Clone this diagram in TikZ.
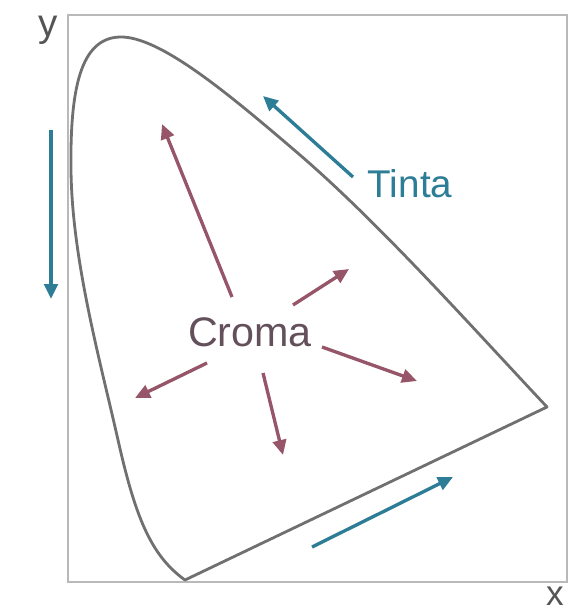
\documentclass[tikz,border=0pt]{standalone}
\usepackage{fontspec}
\setmainfont{Liberation Sans}
\usetikzlibrary{arrows.meta,positioning}
\definecolor{framegray}{RGB}{185,185,185}
\definecolor{locus}{RGB}{112,112,112}
\definecolor{hue}{RGB}{45,125,150}
\definecolor{chroma}{RGB}{150,85,105}
\definecolor{chromatext}{RGB}{100,80,90}
\definecolor{axisgray}{RGB}{85,85,85}
\tikzset{
  >={Triangle[length=3mm,width=2.7mm]},
  shift arrow/.style={->,line width=1.9pt,draw=#1,fill=#1},
  shift arrow/.default=hue,
  word/.style={inner sep=0pt,text=#1,font=\fontsize{22}{26}\selectfont},
  word/.default=axisgray,
}
\begin{document}
\begin{tikzpicture}[x=0.02cm,y=-0.02cm]
  \useasboundingbox (0,0) rectangle (580,614);
  % axes frame and spectral locus
  \draw[framegray,line width=1.1pt] (68,15) rectangle (567,582);
  \draw[locus,line width=1.6pt,line join=round]
    (185,580) .. controls (150,555) and (135,515) .. (118,440)
    .. controls (100,360) and (72,260) .. (71,170)
    .. controls (70,90) and (80,38) .. (120,37)
    .. controls (160,36) and (230,95) .. (300,155)
    .. controls (380,224) and (470,325) .. (547,407) -- cycle;
  \node[word] (ylab) at (48,30) {y};
  \node[word,font=\fontsize{20}{24}\selectfont] (xlab) at (555,596) {x};
  % hue
  \node[word=hue] (tinta) at (410,184) {Tinta};
  \coordinate (tinta tail) at (353,177);
  \coordinate (tinta head) at (263,96);
  \coordinate (left tail) at (51,130);
  \coordinate (left head) at (51,299);
  \coordinate (low tail) at (312,547);
  \coordinate (low head) at (453,477);
  \draw[shift arrow] (tinta tail) -- (tinta head);
  \draw[shift arrow] (left tail) -- (left head);
  \draw[shift arrow] (low tail) -- (low head);
  % chroma
  \node[word=chromatext,font=\fontsize{23.5}{27}\selectfont] (croma) at (250,332) {Croma};
  \foreach \n/\t/\h in {a/{232,297}/{162,124},b/{293,305}/{349,269},c/{322,347}/{417,381},
      d/{263,373}/{283,455},e/{207,363}/{135,398}}{
    \coordinate (croma \n\space tail) at (\t);
    \coordinate (croma \n\space head) at (\h);
    \draw[shift arrow=chroma] (croma \n\space tail) -- (croma \n\space head);
  }
\end{tikzpicture}
\end{document}
